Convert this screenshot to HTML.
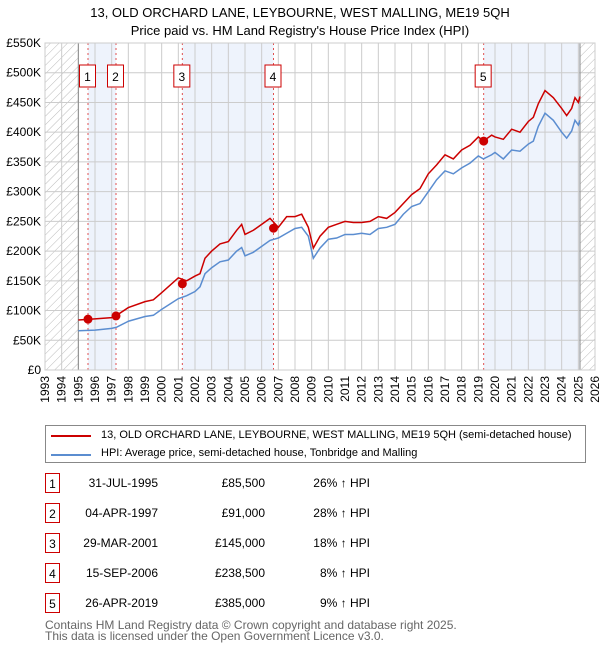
<!DOCTYPE html>
<html><head><meta charset="utf-8"><style>
body{margin:0;background:#fff;font-family:"Liberation Sans","DejaVu Sans",sans-serif;}
#wrap{position:relative;width:600px;height:650px;overflow:hidden}
.t{position:absolute;font-size:12px;color:#000;white-space:nowrap}
.lg{font-size:11px}
.box{position:absolute;border:1px solid #c00;height:20px;text-align:center;line-height:20px;font-size:12px;box-sizing:border-box;width:15px}
</style></head><body><div id="wrap">
<svg id="chart" width="600" height="420" style="position:absolute;left:0;top:0" font-family="Liberation Sans, DejaVu Sans, sans-serif">
<defs><pattern id="hatch" width="6" height="6" patternUnits="userSpaceOnUse" patternTransform="rotate(45)"><line x1="0" y1="0" x2="0" y2="6" stroke="#bbb" stroke-width="1"/></pattern></defs>
<text x="300" y="17" text-anchor="middle" font-size="13">13, OLD ORCHARD LANE, LEYBOURNE, WEST MALLING, ME19 5QH</text>
<text x="300" y="35" text-anchor="middle" font-size="13">Price paid vs. HM Land Registry's House Price Index (HPI)</text>
<g id="bg"></g><g id="grid"></g><g id="marks"></g><g id="axes"></g>
</svg>
<div style="position:absolute;left:45px;top:425px;width:539px;height:36px;border:1px solid #888"></div>
<div style="position:absolute;left:51px;top:435px;width:40px;height:2px;background:#c00"></div>
<div class="t lg" style="left:101px;top:429px">13, OLD ORCHARD LANE, LEYBOURNE, WEST MALLING, ME19 5QH (semi-detached house)</div>
<div style="position:absolute;left:51px;top:454px;width:40px;height:2px;background:#5b8dd0"></div>
<div class="t lg" style="left:101px;top:447px">HPI: Average price, semi-detached house, Tonbridge and Malling</div>
<div id="table"></div>
<div class="t" style="left:45px;top:620px;color:#666;line-height:11px">Contains HM Land Registry data © Crown copyright and database right 2025.<br>This data is licensed under the Open Government Licence v3.0.</div>
</div>
<script>
const years=[1995,1996,1997,1997.3,1998,1999,1999.5,2000,2001,2001.5,2002,2002.3,2002.6,2003,2003.5,2004,2004.5,2004.8,2005,2005.5,2006,2006.5,2007,2007.5,2008,2008.4,2008.8,2009.1,2009.5,2010,2010.5,2011,2011.5,2012,2012.5,2013,2013.5,2014,2014.5,2015,2015.5,2016,2016.5,2017,2017.5,2018,2018.5,2019,2019.3,2019.8,2020,2020.5,2021,2021.5,2022,2022.3,2022.6,2023,2023.5,2024,2024.3,2024.6,2024.8,2025,2025.1];
const hpi=[66,67,70,72,82,90,92,102,120,125,132,140,162,172,182,185,200,206,192,198,208,218,222,230,238,240,225,188,205,220,222,228,228,230,228,238,240,245,262,275,280,300,320,335,330,340,348,360,355,362,366,355,370,368,380,385,410,432,420,400,390,402,420,412,420];
const price=[84,86,88,92,105,115,118,130,155,150,158,162,188,200,212,216,235,245,228,235,245,255,240,258,258,262,240,205,225,240,245,250,248,248,250,258,255,265,280,295,305,330,345,362,355,370,378,392,385,395,392,388,405,400,418,425,448,470,458,440,428,440,458,450,460];
const saleYears=[1995.58,1997.26,2001.24,2006.71,2019.32];
const salePrices=[85.5,91,145,238.5,385];
const saleDates=["31-JUL-1995","04-APR-1997","29-MAR-2001","15-SEP-2006","26-APR-2019"];
const salePriceLabels=["£85,500","£91,000","£145,000","£238,500","£385,000"];
const salePct=["26% ↑ HPI","28% ↑ HPI","18% ↑ HPI","8% ↑ HPI","9% ↑ HPI"];
const yTicks=[0,50,100,150,200,250,300,350,400,450,500,550];
const yTickLabels=["£0","£50K","£100K","£150K","£200K","£250K","£300K","£350K","£400K","£450K","£500K","£550K"];
const NS="http://www.w3.org/2000/svg";
const X0=45,X1=595,Y0=370,Y1=43;
const x=v=>X0+(v-1993)*(X1-X0)/33;
const y=v=>Y0-v*(Y0-Y1)/550;
function mk(p,t,a){const e=document.createElementNS(NS,t);for(const k in a)e.setAttribute(k,a[k]);p.appendChild(e);return e;}
const bg=document.getElementById('bg'),grid=document.getElementById('grid'),marks=document.getElementById('marks'),axes=document.getElementById('axes');
let r=mk(bg,'rect',{x:x(1993),y:Y1,width:x(1995)-x(1993),height:Y0-Y1,fill:'url(#hatch)'});

r=mk(bg,'rect',{x:x(2025.1),y:Y1,width:X1-x(2025.1),height:Y0-Y1,fill:'url(#hatch)'});

for(let i=0;i<saleYears.length;i+=2){const e=i+1<saleYears.length?saleYears[i+1]:2025.1;
 r=mk(bg,'rect',{x:x(saleYears[i]),y:Y1,width:x(e)-x(saleYears[i]),height:Y0-Y1,fill:'#eef3fc'});
 }
for(let yr=1993;yr<=2026;yr++){let l=mk(grid,'line',{x1:x(yr),x2:x(yr),y1:Y1,y2:Y0,stroke:'#ccc'});
 
 let t=mk(axes,'text',{x:0,y:0,'font-size':12,'text-anchor':'end',transform:`translate(${x(yr)+4},${Y0+6}) rotate(-90)`});t.textContent=yr;
 }
yTicks.forEach((v,i)=>{let l=mk(grid,'line',{x1:X0,x2:X1,y1:y(v),y2:y(v),stroke:'#ccc'});
 
 let t=mk(axes,'text',{x:X0-4,y:y(v)+4,'font-size':12,'text-anchor':'end'});t.textContent=yTickLabels[i];
 });
let l=mk(grid,'line',{x1:x(1995),x2:x(1995),y1:Y1,y2:Y0,stroke:'#888'});
l=mk(grid,'line',{x1:x(2025.1),x2:x(2025.1),y1:Y1,y2:Y0,stroke:'#888'});
saleYears.forEach((s,i)=>{let d=mk(marks,'line',{x1:x(s),x2:x(s),y1:Y1,y2:Y0,stroke:'#e05050','stroke-dasharray':'2,3','stroke-width':1});
 });
let p=mk(marks,'polyline',{points:years.map((v,i)=>x(v)+','+y(hpi[i])).join(' '),fill:'none',stroke:'#5b8dd0','stroke-width':1.5});

p=mk(marks,'polyline',{points:years.map((v,i)=>x(v)+','+y(price[i])).join(' '),fill:'none',stroke:'#c00','stroke-width':1.5});

saleYears.forEach((s,i)=>{let c=mk(marks,'circle',{cx:x(s),cy:y(salePrices[i]),r:4.5,fill:'#c00'});
 
 let b=mk(marks,'rect',{x:x(s)-8.5,y:65,width:16,height:22,fill:'#fff',stroke:'#c00'});
 
 let t=mk(marks,'text',{x:x(s)-0.5,y:81,'font-size':12,'text-anchor':'middle'});t.textContent=i+1;
 });
let fr=mk(axes,'rect',{x:X0,y:Y1,width:X1-X0,height:Y0-Y1,fill:'none',stroke:'#ccc'});

const tb=document.getElementById('table');
saleDates.forEach((d,i)=>{const top=473+i*30;
 const row=document.createElement('div');
 row.innerHTML=`<div class="box" style="left:45px;top:${top}px">${i+1}</div>`+
 `<div class="t" style="left:58px;width:100px;text-align:right;top:${top+3}px">${d}</div>`+
 `<div class="t" style="left:165px;width:100px;text-align:right;top:${top+3}px">${salePriceLabels[i]}</div>`+
 `<div class="t" style="left:270px;width:100px;text-align:right;top:${top+3}px">${salePct[i]}</div>`;
 tb.appendChild(row);});
</script></body></html>
